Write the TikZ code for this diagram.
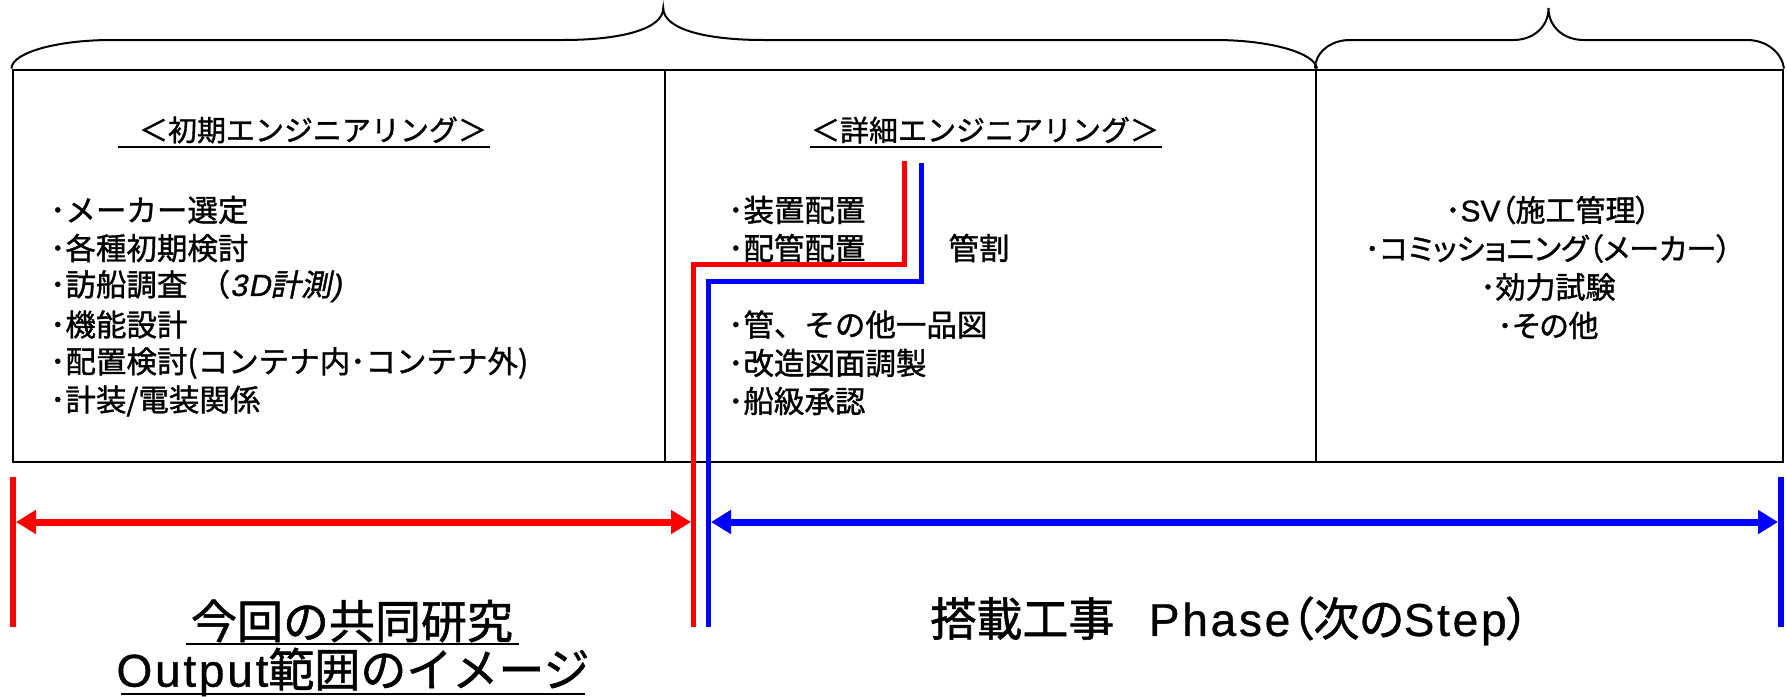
\documentclass[tikz,border=0pt]{standalone}
\usepackage{fontspec}
\setmainfont[FakeBold=1.2]{Noto Sans CJK JP}
\newfontfamily\pcjk[RawFeature=+palt,FakeBold=1.2]{Noto Sans CJK JP}
\newfontfamily\latf[FakeBold=0.8]{Liberation Sans}
\newfontfamily\latw[LetterSpace=6,FakeBold=0.8]{Liberation Sans}
\newfontfamily\latit[FakeSlant=0.2,FakeBold=0.8,LetterSpace=4]{Liberation Sans}
\newfontfamily\cjkit[FakeSlant=0.2,FakeBold=1.2]{Noto Sans CJK JP}
\usetikzlibrary{arrows.meta}
\tikzset{
  panel/.style={draw, line width=2pt, minimum height=392.5pt, inner sep=0pt, anchor=north west},
  brace/.style={line width=2pt},
  item/.style={anchor=west, inner sep=0pt, font=\fontsize{30.5}{36}\selectfont},
  citem/.style={anchor=center, inner sep=0pt, font=\fontsize{30}{36}\pcjk},
  ttl/.style={anchor=center, inner sep=0pt, font=\fontsize{29}{34}\selectfont},
  ul/.style={line width=2pt},
  big/.style={anchor=center, inner sep=0pt, font=\fontsize{46}{54}\selectfont},
  bigul/.style={line width=2.5pt},
  redl/.style={draw=red, line width=5pt},
  bluel/.style={draw=blue, line width=5pt},
  bar/.style={line width=6pt},
  arr/.style={line width=7pt, {Triangle[length=20pt,width=23pt]}-{Triangle[length=20pt,width=23pt]}}
}
\begin{document}
\begin{tikzpicture}[x=1pt,y=-1pt]
\useasboundingbox (0,0) rectangle (1787,696);
% panels
\node[panel, minimum width=652pt] (p1) at (11.5,68.5) {};
\node[panel, minimum width=651.5pt] (p2) at (663.5,68.5) {};
\node[panel, minimum width=467pt] (p3) at (1315,68.5) {};
% braces
\draw[brace] (p1.north west) .. controls (11.5,53) and (56,40) .. (111.5,40) -- (563.25,40)
  .. controls (618,40) and (663.25,30) .. (663.25,8)
  .. controls (663.25,30) and (708.5,40) .. (763.25,40) -- (1215,40)
  .. controls (1270.5,40) and (1315,53) .. (p2.north east);
\draw[brace] (p3.north west) .. controls (1315,53) and (1330,40) .. (1350,40) -- (1513.5,40)
  .. controls (1532,40) and (1548.5,28) .. (1548.5,8)
  .. controls (1548.5,28) and (1565,40) .. (1583.5,40) -- (1747,40)
  .. controls (1767,40) and (1782,53) .. (p3.north east);
% titles
\node[ttl] (t1) at (313,130) {＜初期エンジニアリング＞};
\draw[ul] (118,146.7) -- (490,146.7);
\node[ttl] (t2) at (985,130) {＜詳細エンジニアリング＞};
\draw[ul] (810,146.7) -- (1161.7,146.7);
% left items
\node[item] (l1) at (50,210) {･メーカー選定};
\node[item] (l2) at (50,248) {･各種初期検討};
\node[item] (l3) at (50,286) {･訪船調査\hspace{0.4em}（{\latit 3D}{\cjkit 計測}{\latit )}};
\node[item] (l4) at (50,324.5) {･機能設計};
\node[item] (l5) at (50,363) {･配置検討(コンテナ内･コンテナ外)};
\node[item] (l6) at (50,401) {･計装/電装関係};
% middle items
\node[item] (m1) at (728,210) {･装置配置};
\node[item] (m2) at (728,248) {･配管配置};
\node[item, anchor=center] (m0) at (979,248) {管割};
\node[item] (m3) at (728,324.5) {･管、その他一品図};
\node[item] (m4) at (728,363) {･改造図面調製};
\node[item] (m5) at (728,401) {･船級承認};
% right items
\node[citem] (r1) at (1548,210) {･{\latf SV}（施工管理）};
\node[citem] (r2) at (1548,248.5) {･コミッショニング（メーカー）};
\node[citem] (r3) at (1548,287) {･効力試験};
\node[citem] (r4) at (1548,325.5) {･その他};
% elbow lines
\coordinate (rs) at (904,161);
\coordinate (rk1) at (904,264);
\coordinate (rk2) at (693,264);
\coordinate (re) at (693,627);
\coordinate (bs) at (921.5,163);
\coordinate (bk1) at (921.5,281);
\coordinate (bk2) at (708.5,281);
\coordinate (be) at (708.5,627);
\draw[redl] (rs) -- (rk1) -- (rk2) -- (re);
\draw[bluel] (bs) -- (bk1) -- (bk2) -- (be);
% bars
\coordinate (lbt) at (12.5,477);
\coordinate (lbb) at (12.5,627);
\coordinate (rbt) at (1780.5,477);
\coordinate (rbb) at (1780.5,627);
\draw[bar, red] (lbt) -- (lbb);
\draw[bar, blue] (rbt) -- (rbb);
% arrows
\coordinate (ra1) at (16,522);
\coordinate (ra2) at (691,522);
\coordinate (ba1) at (711,522);
\coordinate (ba2) at (1778,522);
\draw[arr, red] (ra1) -- (ra2);
\draw[arr, blue] (ba1) -- (ba2);
% bottom texts
\node[big] (b1) at (352,621) {今回の共同研究};
\draw[bigul] (186,644) -- (519,644);
\node[big] (b2) at (353,672) {{\latw Output}範囲のイメージ};
\draw[bigul] (121,694) -- (585,694);
\node[big, font=\fontsize{46}{54}\pcjk] (b3) at (1230,621) {搭載工事\hspace{0.75em}{\latw Phase}（次の{\latw Step}）};
\end{tikzpicture}
\end{document}
